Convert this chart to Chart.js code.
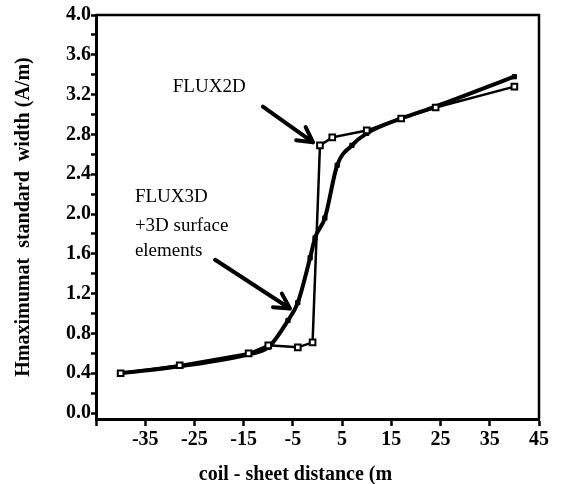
<!DOCTYPE html>
<html><head><meta charset="utf-8">
<script src="https://cdn.jsdelivr.net/npm/chart.js@4"></script>
<style>html,body{margin:0;padding:0;background:#fff}</style>
</head><body>
<canvas id="c" width="572" height="484"></canvas>
<script>
// FLUX2D series
const x2D = [-40, -28, -14, -10, -4, -1, 0.5, 3, 10, 17, 24, 40];
const y2D = [0.40, 0.48, 0.60, 0.68, 0.66, 0.71, 2.69, 2.77, 2.84, 2.96, 3.07, 3.28];
// FLUX3D + 3D surface elements series
const x3D = [-40, -28, -14, -10, -6, -4, -1.5, -0.5, 1.5, 4, 7, 10, 17, 24, 40];
const y3D = [0.40, 0.47, 0.59, 0.66, 0.93, 1.11, 1.56, 1.76, 1.96, 2.49, 2.69, 2.81, 2.96, 3.08, 3.38];
// Tick values and labels
const xTicks = [-45, -35, -25, -15, -5, 5, 15, 25, 35, 45];
const xTickLabels = ['', '-35', '-25', '-15', '-5', '5', '15', '25', '35', '45'];
const yTicks = [0, 0.2, 0.4, 0.6, 0.8, 1.0, 1.2, 1.4, 1.6, 1.8, 2.0, 2.2, 2.4, 2.6, 2.8, 3.0, 3.2, 3.4, 3.6, 3.8, 4.0];
const yTickLabels = ['0.0', '', '0.4', '', '0.8', '', '1.2', '', '1.6', '', '2.0', '', '2.4', '', '2.8', '', '3.2', '', '3.6', '', '4.0'];

const FONT = "'Liberation Serif', 'DejaVu Serif', serif";

const toPts = (xs, ys) => xs.map((x, i) => ({x: x, y: ys[i]}));

const annotations = {
  id: 'annotations',
  afterDraw(chart) {
    const ctx = chart.ctx, xs = chart.scales.x, ys = chart.scales.y, a = chart.chartArea;
    const P = (x, y) => [xs.getPixelForValue(x), ys.getPixelForValue(y)];
    ctx.save();
    // frame top and right
    ctx.strokeStyle = '#000';
    ctx.lineWidth = 2.5;
    ctx.beginPath();
    ctx.moveTo(a.left, a.top); ctx.lineTo(a.right, a.top); ctx.lineTo(a.right, a.bottom);
    ctx.stroke();
    // texts
    ctx.fillStyle = '#000';
    ctx.textBaseline = 'middle';
    ctx.textAlign = 'left';
    ctx.font = '19px ' + FONT;
    let p = P(-29.4, 3.28);
    ctx.fillText('FLUX2D', p[0], p[1]);
    p = P(-37.1, 2.17);
    ctx.fillText('FLUX3D', p[0], p[1]);
    p = P(-37.1, 1.88);
    ctx.fillText('+3D surface', p[0], p[1]);
    p = P(-37.1, 1.63);
    ctx.fillText('elements', p[0], p[1]);
    // arrows
    const arrow = (x1, y1, x2, y2) => {
      const s = P(x1, y1), e = P(x2, y2);
      const ang = Math.atan2(e[1] - s[1], e[0] - s[0]);
      ctx.lineWidth = 4;
      ctx.lineCap = 'round';
      ctx.beginPath();
      ctx.moveTo(s[0], s[1]); ctx.lineTo(e[0], e[1]);
      const L = 17, w = 0.5;
      ctx.moveTo(e[0], e[1]);
      ctx.lineTo(e[0] - L * Math.cos(ang - w), e[1] - L * Math.sin(ang - w));
      ctx.moveTo(e[0], e[1]);
      ctx.lineTo(e[0] - L * Math.cos(ang + w), e[1] - L * Math.sin(ang + w));
      ctx.stroke();
    };
    arrow(-11.1, 3.08, -0.9, 2.72);
    arrow(-20.8, 1.54, -5.6, 1.05);
    // x axis title
    ctx.font = 'bold 20px ' + FONT;
    ctx.textAlign = 'center';
    ctx.fillText('coil - sheet distance (m', (a.left + a.right) / 2 - 22, 475);
    ctx.restore();
  }
};

new Chart(document.getElementById('c'), {
  type: 'scatter',
  data: {
    datasets: [
      {
        label: 'FLUX2D',
        data: toPts(x2D, y2D),
        showLine: true,
        borderColor: '#000',
        borderWidth: 2.5,
        tension: 0,
        pointStyle: 'rect',
        pointRadius: 4,
        pointBackgroundColor: '#fff',
        pointBorderColor: '#000',
        pointBorderWidth: 2
      },
      {
        label: 'FLUX3D +3D surface elements',
        data: toPts(x3D, y3D),
        showLine: true,
        borderColor: '#000',
        borderWidth: 4,
        cubicInterpolationMode: 'monotone',
        pointStyle: 'rect',
        pointRadius: 3,
        pointBackgroundColor: '#000',
        pointBorderColor: '#000',
        pointBorderWidth: 1
      }
    ]
  },
  options: {
    responsive: false,
    animation: false,
    layout: {padding: {left: 12, top: 15, right: 33, bottom: 0}},
    plugins: {legend: {display: false}, tooltip: {enabled: false}},
    scales: {
      x: {
        type: 'linear',
        min: -45, max: 45,
        afterBuildTicks: s => { s.ticks = xTicks.map(v => ({value: v})); },
        afterFit: s => { s.height = 65; },
        ticks: {
          callback: (v, i) => xTickLabels[i],
          color: '#000', autoSkip: false, maxRotation: 0, padding: 2,
          font: {family: FONT, size: 20, weight: 'bold'}
        },
        grid: {drawOnChartArea: false, drawTicks: true, tickLength: 7, tickWidth: 2.5, tickColor: '#000'},
        border: {color: '#000', width: 3}
      },
      y: {
        type: 'linear',
        min: -0.06, max: 4.0,
        afterBuildTicks: s => { s.ticks = yTicks.map(v => ({value: v})); },
        afterFit: s => { s.width = 84; },
        ticks: {
          callback: (v, i) => yTickLabels[i],
          color: '#000', autoSkip: false, padding: 0,
          font: {family: FONT, size: 20, weight: 'bold'}
        },
        grid: {drawOnChartArea: false, drawTicks: true, tickLength: 5, tickWidth: 2.5, tickColor: '#000'},
        border: {color: '#000', width: 3},
        title: {
          display: true,
          text: 'Hmaximumat  standard  width (A/m)',
          color: '#000',
          padding: 0,
          font: {family: FONT, size: 20, weight: 'bold'}
        }
      }
    }
  },
  plugins: [annotations]
});
</script>
</body></html>
